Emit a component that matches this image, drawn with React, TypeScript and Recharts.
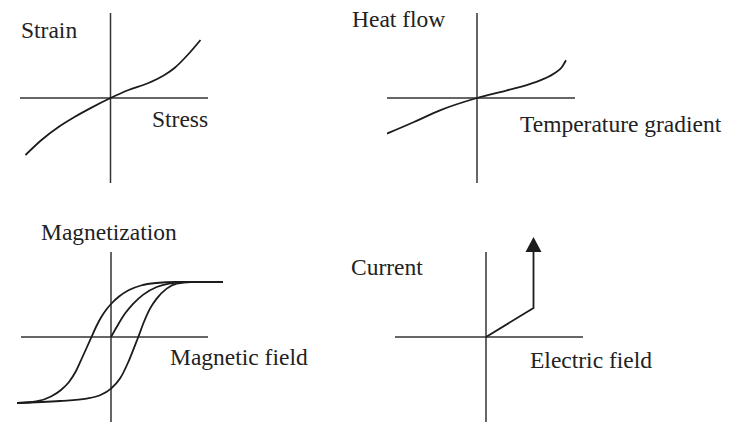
import * as React from "react";
import { LineChart, Line, XAxis, YAxis, ReferenceLine } from "recharts";

// values, origin of each panel at (0, 0)
const strainCurve = [
  { x: -85, y: -57 },
  { x: -69, y: -42 },
  { x: -52, y: -29 },
  { x: -36, y: -19 },
  { x: -19, y: -9.6 },
  { x: 0, y: 0 },
  { x: 18, y: 8 },
  { x: 38, y: 15 },
  { x: 54, y: 23 },
  { x: 64, y: 30 },
  { x: 78, y: 44 },
  { x: 90, y: 58 },
];

const heatCurve = [
  { x: -90, y: -35.6 },
  { x: -63, y: -24 },
  { x: -37, y: -12.3 },
  { x: 0, y: 0 },
  { x: 30, y: 7.7 },
  { x: 57, y: 15.4 },
  { x: 77, y: 24.4 },
  { x: 85, y: 31 },
  { x: 89, y: 37.7 },
];

const hysteresisDown = [
  { x: -94, y: -66 },
  { x: -75, y: -64.5 },
  { x: -60, y: -59.5 },
  { x: -50, y: -53 },
  { x: -42, y: -45 },
  { x: -35, y: -34 },
  { x: -29, y: -21 },
  { x: -24, y: -10 },
  { x: -19.5, y: 0 },
  { x: -15, y: 10 },
  { x: -10, y: 19.5 },
  { x: -5, y: 27 },
  { x: 0, y: 33 },
  { x: 8, y: 40.5 },
  { x: 18, y: 47 },
  { x: 30, y: 51.5 },
  { x: 45, y: 54 },
  { x: 65, y: 55 },
  { x: 112, y: 55 },
];

const hysteresisUp = [
  { x: -94, y: -66 },
  { x: -51, y: -64 },
  { x: -24.3, y: -61.6 },
  { x: -11, y: -58.3 },
  { x: 0, y: -51.6 },
  { x: 9, y: -41.6 },
  { x: 17.3, y: -25 },
  { x: 24, y: -8.3 },
  { x: 27.3, y: 0 },
  { x: 32.3, y: 13.5 },
  { x: 39, y: 28.4 },
  { x: 45.7, y: 38.4 },
  { x: 55.7, y: 48.4 },
  { x: 65.7, y: 53.4 },
  { x: 80, y: 55 },
  { x: 112, y: 55 },
];

const initialCurve = [
  { x: 0, y: 0 },
  { x: 5.7, y: 10 },
  { x: 14, y: 23.4 },
  { x: 22.3, y: 33.4 },
  { x: 32.3, y: 42.4 },
  { x: 45.7, y: 50 },
  { x: 59, y: 53.7 },
  { x: 72.3, y: 55 },
];

const currentPath = [
  { x: 0, y: 0 },
  { x: 47.5, y: 29 },
  { x: 47.5, y: 85 },
];

const labels = [
  { text: "Strain", x: 21, y: 38 },
  { text: "Stress", x: 152, y: 127 },
  { text: "Heat flow", x: 352, y: 27 },
  { text: "Temperature gradient", x: 520, y: 132 },
  { text: "Magnetization", x: 41, y: 240 },
  { text: "Magnetic field", x: 170, y: 365 },
  { text: "Current", x: 351, y: 275 },
  { text: "Electric field", x: 530, y: 368 },
];

const AXIS = "#333";
const INK = "#1c1c1c";

type PanelProps = {
  left: number;
  top: number;
  width: number;
  height: number;
  xDomain: [number, number];
  yDomain: [number, number];
  hSeg: [number, number];
  vSeg: [number, number];
  children?: React.ReactNode;
};

function Panel({ left, top, width, height, xDomain, yDomain, hSeg, vSeg, children }: PanelProps) {
  return (
    <div style={{ position: "absolute", left, top, width, height }}>
      <LineChart width={width} height={height} margin={{ top: 0, right: 0, bottom: 0, left: 0 }}>
        <XAxis type="number" dataKey="x" domain={xDomain} hide allowDataOverflow />
        <YAxis type="number" dataKey="y" domain={yDomain} hide allowDataOverflow />
        <ReferenceLine
          segment={[{ x: hSeg[0], y: 0 }, { x: hSeg[1], y: 0 }]}
          stroke={AXIS}
          strokeWidth={1.5}
        />
        <ReferenceLine
          segment={[{ x: 0, y: vSeg[0] }, { x: 0, y: vSeg[1] }]}
          stroke={AXIS}
          strokeWidth={1.5}
        />
        {children}
      </LineChart>
    </div>
  );
}

const curve = (data: { x: number; y: number }[], key: string) => (
  <Line
    key={key}
    data={data}
    dataKey="y"
    type="monotone"
    stroke={INK}
    strokeWidth={1.8}
    dot={false}
    activeDot={false}
    isAnimationActive={false}
  />
);

const arrowDot = (props: any) => {
  const { cx, cy, index } = props;
  if (index !== currentPath.length - 1) return <g key={index} />;
  return (
    <polygon
      key={index}
      points={`${cx},${cy - 15} ${cx - 8},${cy} ${cx + 8},${cy}`}
      fill={INK}
    />
  );
};

export default function App() {
  return (
    <div style={{ position: "absolute", left: 0, top: 0, width: 729, height: 435, background: "#fff" }}>
      <Panel left={20} top={13} width={188} height={170} xDomain={[-90.5, 97.5]} yDomain={[-85, 85]} hSeg={[-90.5, 97.5]} vSeg={[-85, 85]}>
        {curve(strainCurve, "strain")}
      </Panel>
      <Panel left={387} top={13} width={188} height={170} xDomain={[-90, 98]} yDomain={[-85, 85]} hSeg={[-90, 98]} vSeg={[-85, 85]}>
        {curve(heatCurve, "heat")}
      </Panel>
      <Panel left={14} top={252} width={212} height={170} xDomain={[-97, 115]} yDomain={[-85, 85]} hSeg={[-90, 97]} vSeg={[-85, 85]}>
        {curve(hysteresisDown, "down")}
        {curve(hysteresisUp, "up")}
        {curve(initialCurve, "initial")}
      </Panel>
      <Panel left={395} top={232} width={188} height={190} xDomain={[-91, 97]} yDomain={[-85, 105]} hSeg={[-91, 97]} vSeg={[-85, 85]}>
        <Line
          data={currentPath}
          dataKey="y"
          type="linear"
          stroke={INK}
          strokeWidth={1.8}
          dot={arrowDot}
          activeDot={false}
          isAnimationActive={false}
        />
      </Panel>
      <svg
        width={729}
        height={435}
        style={{ position: "absolute", left: 0, top: 0, pointerEvents: "none" }}
      >
        {labels.map((l) => (
          <text
            key={l.text}
            x={l.x}
            y={l.y}
            fill="#222"
            fontSize={23.5}
            fontFamily="'Liberation Serif', 'Times New Roman', serif"
          >
            {l.text}
          </text>
        ))}
      </svg>
    </div>
  );
}
